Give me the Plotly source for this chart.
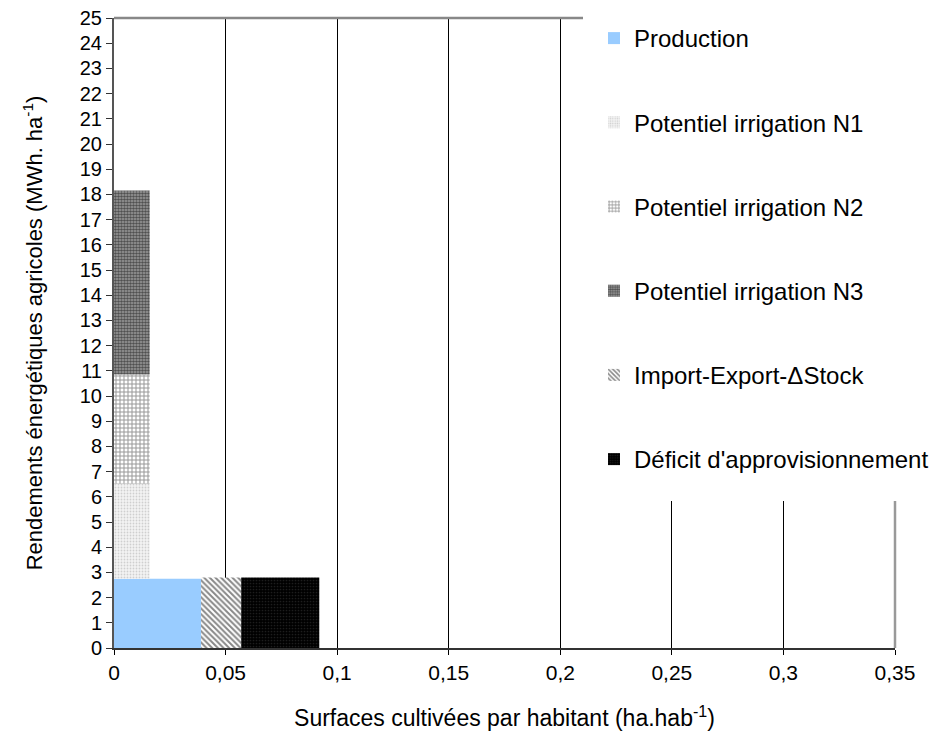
import plotly.graph_objects as go

# ---- data ----
series_names = ["Production", "Potentiel irrigation N1", "Potentiel irrigation N2",
                "Potentiel irrigation N3", "Import-Export-ΔStock", "Déficit d'approvisionnement"]
# rectangles: x start, width (ha/hab), y base, y top (MWh/ha)
x_start = [0.0, 0.0, 0.0, 0.0, 0.039, 0.057]
x_width = [0.039, 0.016, 0.016, 0.016, 0.018, 0.035]
y_base = [0.0, 2.75, 6.52, 10.85, 0.0, 0.0]
y_top = [2.75, 6.52, 10.85, 18.15, 2.8, 2.8]

x_tickvals = [0, 0.05, 0.1, 0.15, 0.2, 0.25, 0.3, 0.35]
x_ticktext = ["0", "0,05", "0,1", "0,15", "0,2", "0,25", "0,3", "0,35"]
y_tickvals = list(range(0, 26))

# ---- styles ----
styles = [
    dict(color="#99CCFF"),
    dict(color="white", pattern=dict(shape=".", fgcolor="#aaaaaa", bgcolor="#f4f4f4", size=3, solidity=0.3)),
    dict(color="white", pattern=dict(shape="+", fgcolor="#333333", bgcolor="white", size=4, solidity=0.45)),
    dict(color="#333", pattern=dict(shape=".", fgcolor="#000000", bgcolor="#a0a0a0", size=3, solidity=0.6)),
    dict(color="white", pattern=dict(shape="\\", fgcolor="#111111", bgcolor="white", size=4, solidity=0.5)),
    dict(color="#000", pattern=dict(shape=".", fgcolor="#3a3a3a", bgcolor="#000000", size=3, solidity=0.25)),
]

fig = go.Figure()
for i, name in enumerate(series_names):
    fig.add_trace(go.Bar(
        x=[x_start[i] + x_width[i] / 2],
        y=[y_top[i] - y_base[i]],
        base=[y_base[i]],
        width=[x_width[i]],
        name=name,
        legendgroup=name,
        marker=dict(line=dict(width=0), **styles[i]),
        showlegend=True,
    ))

FONT = "Liberation Sans, Arial, sans-serif"

# page body adds an 8 px offset; compensate in the margins
L, R, T, B = 106, 58, 10, 93
PW = 945 - L - R
PH = 733 - T - B

fig.update_layout(
    width=945, height=733,
    margin=dict(l=L, r=R, t=T, b=B, autoexpand=False),
    paper_bgcolor="white", plot_bgcolor="white",
    barmode="overlay",
    font=dict(family=FONT, color="black", size=20),
    showlegend=True,
    legend=dict(
        x=(594 - 114) / PW, y=1.0 + 2 / PH, xanchor="left", yanchor="top",
        bgcolor="rgba(0,0,0,0)",
        font=dict(size=24, family=FONT),
        traceorder="grouped",
        tracegroupgap=50,
        itemwidth=30,
        maxheight=700,
    ),
    xaxis=dict(
        range=[0, 0.35], tickvals=x_tickvals, ticktext=x_ticktext,
        automargin=False, ticklabeloverflow="allow",
        showgrid=True, gridcolor="black", gridwidth=1,
        showline=True, linecolor="#333333", linewidth=2,
        ticks="outside", ticklen=5, tickcolor="black",
        tickfont=dict(size=21),
        zeroline=False,
        title=dict(text="Surfaces cultivées par habitant (ha.hab<sup>-1</sup>)", font=dict(size=23), standoff=27),
    ),
    yaxis=dict(
        range=[0, 25], tickvals=y_tickvals,
        automargin=False, ticklabeloverflow="allow",
        showgrid=False, zeroline=False,
        showline=True, linecolor="#555555", linewidth=2,
        ticks="outside", ticklen=6, tickcolor="#333",
        tickfont=dict(size=20),
        title=dict(text="Rendements énergétiques agricoles (MWh. ha<sup>-1</sup>)", font=dict(size=22), standoff=31),
    ),
    shapes=[
        # white box behind legend covering the grid
        dict(type="rect", xref="paper", yref="paper", x0=(583 - 114) / PW, x1=1.2,
             y0=(648 - 501) / PH, y1=1.1, fillcolor="white", line=dict(width=0), layer="above"),
        # top border
        dict(type="line", xref="paper", yref="paper", x0=0, x1=(583 - 114) / PW, y0=1, y1=1,
             line=dict(color="#888888", width=2.5), layer="above"),
        # right border
        dict(type="line", xref="paper", yref="paper", x0=1, x1=1, y0=0, y1=(648 - 501) / PH,
             line=dict(color="#999999", width=2.5), layer="above"),
    ],
)

fig.write_html("out.html")
